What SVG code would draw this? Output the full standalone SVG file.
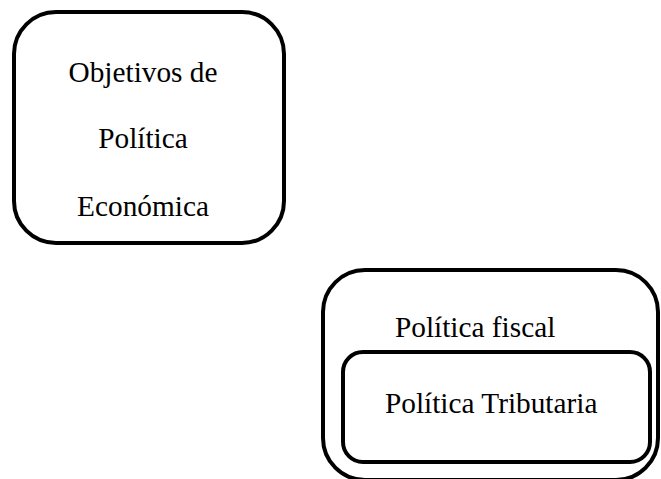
<svg xmlns="http://www.w3.org/2000/svg" width="661" height="479" viewBox="0 0 661 479">
<style>
.box{fill:none;stroke:#000;stroke-width:4}
.t{font-family:"Liberation Serif","Times New Roman",serif;font-size:29.3px;fill:#000}
</style>
<rect width="661" height="479" fill="#fff"/>
<g id="objetivos">
<rect class="box" x="14" y="12" width="270" height="231" rx="42" ry="42"/>
<text class="t" x="143" y="82" text-anchor="middle">Objetivos de</text>
<text class="t" x="143" y="148" text-anchor="middle">Política</text>
<text class="t" x="143" y="216" text-anchor="middle">Económica</text>
</g>
<g id="fiscal">
<rect class="box" x="323" y="270" width="335" height="210" rx="42" ry="42"/>
<text class="t" x="395" y="337">Política fiscal</text>
</g>
<g id="tributaria">
<rect class="box" x="343" y="352" width="307" height="110" rx="20" ry="20"/>
<text class="t" x="385" y="413">Política Tributaria</text>
</g>
<g id="connectors"/>
</svg>
